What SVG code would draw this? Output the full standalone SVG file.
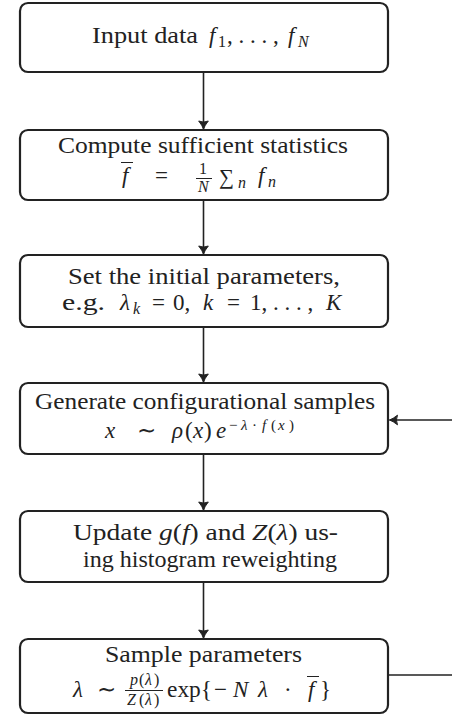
<svg xmlns="http://www.w3.org/2000/svg" width="452" height="715" viewBox="0 0 452 715">
<style>
.box{fill:#fff;stroke:#222;stroke-width:2.2}
.t{font-family:"Liberation Serif","Times New Roman",serif;font-size:23px;fill:#222}
.i{font-style:italic}
.s{font-size:16px}
.ss{font-size:15px}
.ln{stroke:#222;stroke-width:1.6;fill:none}
.bar{stroke:#222;stroke-width:1}
</style>
<defs>
<marker id="arr" viewBox="-9 -6 10 12" refX="0" refY="0" markerWidth="10" markerHeight="12" markerUnits="userSpaceOnUse" orient="auto" overflow="visible">
<path d="M-8,-4.8 Q-3.5,-1.2 0,0 Q-3.5,1.2 -8,4.8 Q-5.8,0 -8,-4.8 Z" fill="#222" stroke="#222" stroke-width="1" stroke-linejoin="round"/>
</marker>
</defs>
<rect width="452" height="715" fill="#fff"/>

<g id="connectors">
<line class="ln" x1="203.5" y1="73" x2="203.5" y2="129" marker-end="url(#arr)"/>
<line class="ln" x1="203.5" y1="201" x2="203.5" y2="254" marker-end="url(#arr)"/>
<line class="ln" x1="203.5" y1="328" x2="203.5" y2="382" marker-end="url(#arr)"/>
<line class="ln" x1="203.5" y1="455" x2="203.5" y2="510" marker-end="url(#arr)"/>
<line class="ln" x1="203.5" y1="583" x2="203.5" y2="638" marker-end="url(#arr)"/>
<line class="ln" x1="452" y1="420" x2="389.5" y2="420" marker-end="url(#arr)"/>
<line class="ln" x1="389" y1="675" x2="452" y2="675"/>
</g>

<g id="n1">
<rect class="box" x="20" y="3" width="368" height="69" rx="8"/>
<text class="t"><tspan x="92" y="43" textLength="106" lengthAdjust="spacingAndGlyphs">Input data</tspan><tspan class="i" x="209" y="43">f</tspan><tspan class="s" x="218" y="47">1</tspan><tspan x="227" y="43">, . . . ,</tspan><tspan class="i" x="288" y="43">f</tspan><tspan class="i s" x="298" y="47">N</tspan></text>
</g>

<g id="n2">
<rect class="box" x="20" y="130" width="368" height="70" rx="8"/>
<text class="t" x="58" y="153" textLength="290" lengthAdjust="spacingAndGlyphs">Compute sufficient statistics</text>
<text class="t"><tspan class="i" x="122" y="183">f</tspan><tspan x="155" y="183">=</tspan><tspan class="s" x="199" y="174">1</tspan><tspan class="s i" x="198" y="192">N</tspan><tspan x="219" y="184" style="font-size:21px">∑</tspan><tspan class="s i" x="238" y="188">n</tspan><tspan class="i" x="258" y="183">f</tspan><tspan class="s i" x="268" y="187">n</tspan></text>
<line class="bar" x1="121" y1="162.5" x2="133" y2="162.5"/>
<line class="bar" x1="196" y1="178.5" x2="212" y2="178.5"/>
</g>

<g id="n3">
<rect class="box" x="20" y="255" width="368" height="72" rx="8"/>
<text class="t" x="68" y="284" textLength="272" lengthAdjust="spacingAndGlyphs">Set the initial parameters,</text>
<text class="t"><tspan x="62" y="310" textLength="43" lengthAdjust="spacingAndGlyphs">e.g.</tspan><tspan class="i" x="120" y="310">λ</tspan><tspan class="i s" x="133" y="314">k</tspan><tspan x="152" y="310">=</tspan><tspan x="173" y="310">0,</tspan><tspan class="i" x="203" y="310">k</tspan><tspan x="227" y="310">=</tspan><tspan x="250" y="310">1, . . . ,</tspan><tspan class="i" x="326" y="310">K</tspan></text>
</g>

<g id="n4">
<rect class="box" x="20" y="383" width="368" height="71" rx="8"/>
<text class="t" x="35" y="409" textLength="340" lengthAdjust="spacingAndGlyphs">Generate configurational samples</text>
<text class="t"><tspan class="i" x="105" y="438">x</tspan><tspan x="137" y="438">∼</tspan><tspan class="i" x="172" y="438">ρ</tspan><tspan x="185" y="438">(</tspan><tspan class="i" x="193" y="438">x</tspan><tspan x="204" y="438">)</tspan><tspan class="i" x="216" y="438">e</tspan><tspan class="ss" x="229" y="430">−</tspan><tspan class="ss i" x="241" y="430">λ</tspan><tspan class="ss" x="252" y="430">·</tspan><tspan class="ss i" x="262" y="430">f</tspan><tspan class="ss" x="271" y="430">(</tspan><tspan class="ss i" x="278" y="430">x</tspan><tspan class="ss" x="289" y="430">)</tspan></text>
</g>

<g id="n5">
<rect class="box" x="20" y="511" width="368" height="71" rx="8"/>
<text class="t" x="73" y="540" textLength="265" lengthAdjust="spacingAndGlyphs">Update <tspan class="i">g</tspan>(<tspan class="i">f</tspan>) and <tspan class="i">Z</tspan>(<tspan class="i">λ</tspan>) us-</text>
<text class="t" x="83" y="567" textLength="254" lengthAdjust="spacingAndGlyphs">ing histogram reweighting</text>
</g>

<g id="n6">
<rect class="box" x="20" y="639" width="368" height="74" rx="8"/>
<text class="t" x="105" y="662" textLength="197" lengthAdjust="spacingAndGlyphs">Sample parameters</text>
<text class="t"><tspan class="i" x="73" y="697">λ</tspan><tspan x="97" y="697">∼</tspan><tspan class="s i" x="130" y="685">p</tspan><tspan class="s" x="139" y="685">(</tspan><tspan class="s i" x="145" y="685">λ</tspan><tspan class="s" x="154" y="685">)</tspan><tspan class="s i" x="127" y="705">Z</tspan><tspan class="s" x="139" y="705">(</tspan><tspan class="s i" x="145" y="705">λ</tspan><tspan class="s" x="154" y="705">)</tspan><tspan x="167" y="697" textLength="45" lengthAdjust="spacingAndGlyphs">exp{</tspan><tspan x="214" y="697">−</tspan><tspan class="i" x="233" y="697">N</tspan><tspan class="i" x="258" y="697">λ</tspan><tspan x="284" y="697">·</tspan><tspan class="i" x="308" y="697">f</tspan><tspan x="320" y="697">}</tspan></text>
<line class="bar" x1="125" y1="690.5" x2="163" y2="690.5"/>
<line class="bar" x1="307" y1="676.5" x2="319" y2="676.5"/>
</g>
</svg>
